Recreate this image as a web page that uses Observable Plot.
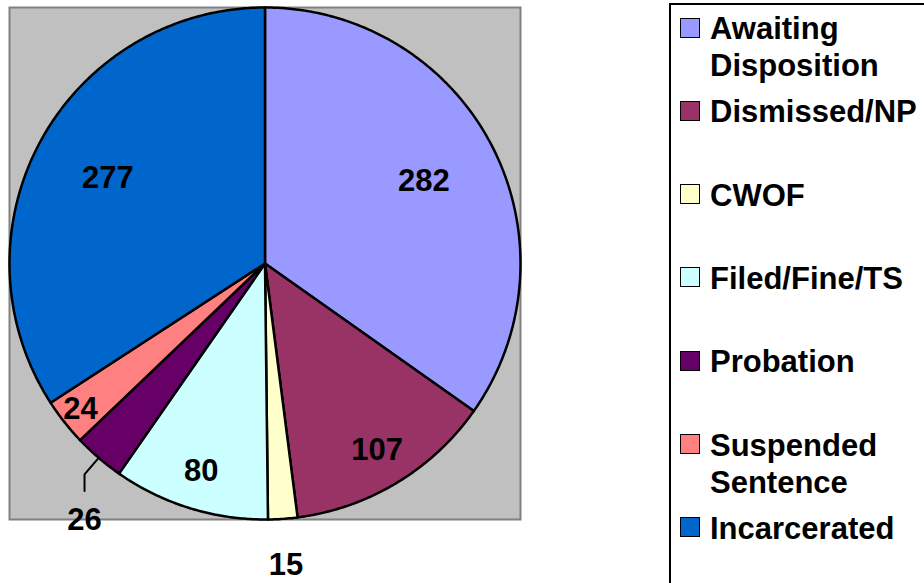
<!DOCTYPE html>
<html><head><meta charset="utf-8">
<script src="https://cdn.jsdelivr.net/npm/d3@7"></script>
<script src="https://cdn.jsdelivr.net/npm/@observablehq/plot@0.6"></script>
<style>
html,body{margin:0;padding:0;background:#fff;overflow:hidden;}
body{position:relative;width:924px;height:583px;font-family:"Liberation Sans",Arial,sans-serif;}
#chart{position:absolute;left:0;top:0;}
#legend{position:absolute;left:669px;top:3px;width:400px;height:700px;border:2px solid #000;box-sizing:border-box;}
.sw{position:absolute;width:18px;height:18px;border:1.5px solid #000;}
.lab{position:absolute;font-size:31px;font-weight:bold;line-height:37px;white-space:pre;color:#000;}
</style></head><body>
<div id="chart"></div>
<div id="legend"></div>
<script>
const categories = ["Awaiting Disposition","Dismissed/NP","CWOF","Filed/Fine/TS","Probation","Suspended Sentence","Incarcerated"];
const legendLabels = ["Awaiting\nDisposition","Dismissed/NP","CWOF","Filed/Fine/TS","Probation","Suspended\nSentence","Incarcerated"];
const values = [282,107,15,80,26,24,277];
const colors = ["#9999FF","#993366","#FFFFCC","#CCFFFF","#660066","#FF8080","#0066CC"];
const outsideLabels = ["CWOF","Probation"];
const leaderLabels = ["Probation"];

const total = d3.sum(values);
const arcs = d3.pie().sort(null).value(d => d.value)(categories.map((c, i) => ({category: c, value: values[i]})));

const pts = [];
for (const a of arcs) {
  const c = a.data.category;
  pts.push({category: c, x: 0, y: 0});
  const n = Math.max(2, Math.ceil((a.endAngle - a.startAngle) / (Math.PI / 360)));
  for (let k = 0; k <= n; k++) {
    const t = a.startAngle + (a.endAngle - a.startAngle) * k / n;
    pts.push({category: c, x: Math.sin(t), y: Math.cos(t)});
  }
}

const labels = [];
const leader = [];
for (const a of arcs) {
  const c = a.data.category;
  const mid = (a.startAngle + a.endAngle) / 2;
  const f = a.value / total;
  if (leaderLabels.includes(c)) {
    const ex = Math.sin(mid) * 1.085, ey = Math.cos(mid) * 1.085;
    leader.push({x: Math.sin(mid), y: Math.cos(mid)}, {x: ex, y: ey}, {x: ex, y: ey - 0.065});
    labels.push({x: ex, y: ey - 0.065, text: String(a.value), lead: true});
    continue;
  }
  const r = outsideLabels.includes(c) ? 1.18 : (f > 0.25 ? 0.7 : f > 0.08 ? 0.85 : 0.92);
  labels.push({x: Math.sin(mid) * r, y: Math.cos(mid) * r, text: String(a.value), lead: false});
}

const font = '"Liberation Sans", Arial, sans-serif';
const chart = Plot.plot({
  width: 924, height: 583,
  marginLeft: 9, marginRight: 404, marginTop: 7, marginBottom: 64,
  x: {domain: [-1, 1], axis: null},
  y: {domain: [-1, 1], axis: null},
  color: {domain: categories, range: colors},
  style: {fontFamily: font, background: "transparent", overflow: "visible"},
  marks: [
    Plot.frame({fill: "#C0C0C0", stroke: "#808080", strokeWidth: 2}),
    Plot.line(pts, {x: "x", y: "y", z: "category", fill: "category", stroke: "#000", strokeWidth: 2.5, curve: "linear-closed"}),
    Plot.line(leader, {x: "x", y: "y", stroke: "#000", strokeWidth: 2}),
    Plot.text(labels.filter(d => !d.lead), {x: "x", y: "y", text: "text", fontSize: 31, fontWeight: "bold", fill: "#000"}),
    Plot.text(labels.filter(d => d.lead), {x: "x", y: "y", text: "text", fontSize: 31, fontWeight: "bold", fill: "#000", dy: 29})
  ]
});
document.getElementById("chart").appendChild(chart);

const body = document.body;
categories.forEach((c, i) => {
  const cy = 28 + 83.3 * i;
  const sw = document.createElement("div");
  sw.className = "sw";
  sw.style.left = "680px";
  sw.style.top = (cy - 10.5) + "px";
  sw.style.background = colors[i];
  body.appendChild(sw);
  const lab = document.createElement("div");
  lab.className = "lab";
  lab.style.left = "710px";
  lab.style.top = (cy - 18) + "px";
  lab.textContent = legendLabels[i];
  body.appendChild(lab);
});
</script>
</body></html>
